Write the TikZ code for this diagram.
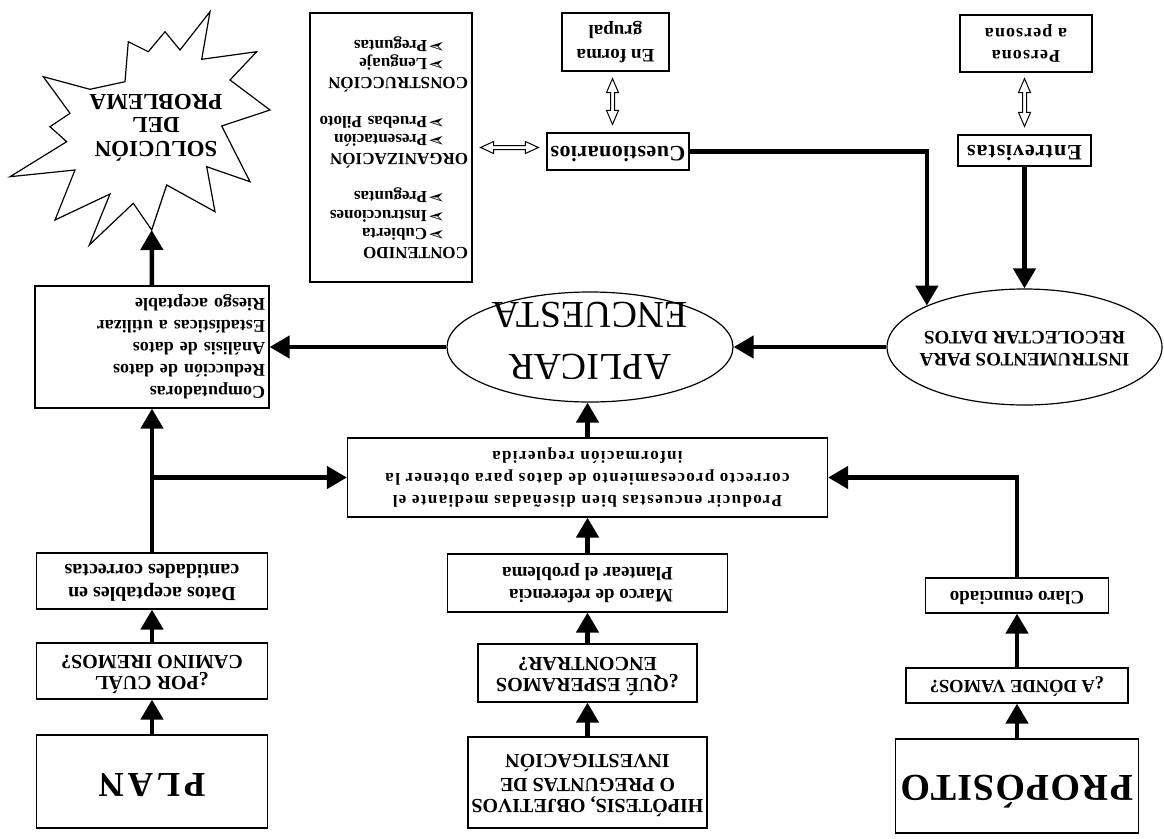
\documentclass[tikz,border=0pt]{standalone}
\usepackage{fontspec}
\usepackage{graphicx}
\setmainfont{Liberation Serif}
\newfontfamily\dingfont{DejaVu Sans}
\usetikzlibrary{arrows.meta,shapes.geometric,calc}

% text blocks printed upside down; optional arg shifts the block (upright sense)
\newcommand\flipc[2][0pt]{\rotatebox[origin=c]{180}{\raisebox{#1}[\height][\depth]{\begin{tabular}{@{}c@{}}#2\end{tabular}}}}
\newcommand\flipl[2][0pt]{\rotatebox[origin=c]{180}{\raisebox{#1}[\height][\depth]{\begin{tabular}{@{}l@{}}#2\end{tabular}}}}
\newcommand\fs[2]{\fontsize{#1}{#2}\selectfont}
\newcommand\itm[1]{\hspace*{23pt}{\dingfont\fontsize{20}{18}\selectfont ➢}\hspace{1pt}#1}

% hollow double-headed arrows
\newcommand\vdbl[2]{\draw[hollow] let \p1=(#1), \p2=(#2) in
  (\x1,\y1) -- (\x1+6pt,\y1-14pt) -- (\x1+2pt,\y1-14pt) -- (\x1+2pt,\y2+14pt)
  -- (\x1+6pt,\y2+14pt) -- (\x1,\y2) -- (\x1-6pt,\y2+14pt) -- (\x1-2pt,\y2+14pt)
  -- (\x1-2pt,\y1-14pt) -- (\x1-6pt,\y1-14pt) -- cycle;}
\newcommand\hdbl[2]{\draw[hollow] let \p1=(#1), \p2=(#2) in
  (\x1,\y1) -- (\x1+13pt,\y1+6pt) -- (\x1+13pt,\y1+2pt) -- (\x2-13pt,\y1+2pt)
  -- (\x2-13pt,\y1+6pt) -- (\x2,\y1) -- (\x2-13pt,\y1-6pt) -- (\x2-13pt,\y1-2pt)
  -- (\x1+13pt,\y1-2pt) -- (\x1+13pt,\y1-6pt) -- cycle;}

\begin{document}
\begin{tikzpicture}[x=1pt,y=-1pt,
  box/.style={draw, line width=1.2pt, inner sep=0pt},
  oval/.style={draw, ellipse, line width=1.2pt, inner sep=0pt},
  arr/.style={line width=4.5pt, -{Triangle[length=20pt,width=22pt]}},
  hollow/.style={draw, fill=white, line width=1pt, line join=miter}]
\fill[white] (0,0) rectangle (1164,838);
\useasboundingbox (0,0) rectangle (1164,838);

% ---- left column
\node[box, minimum width=231pt, minimum height=93pt,
  font={\bfseries\fs{35}{40}\addfontfeature{LetterSpace=11}}] (plan) at (152,781.5) {\flipc{PLAN}};
\node[box, minimum width=231pt, minimum height=56pt, font={\bfseries\fs{20}{21}}] (porcual) at (152,671) {\flipc{¿POR CUÁL\\CAMINO IREMOS?}};
\node[box, minimum width=231pt, minimum height=56pt, font={\bfseries\fs{20}{23}}] (datos) at (152,581) {\flipc{Datos aceptables en\\cantidades correctas}};
\node[box, minimum width=234pt, minimum height=122pt, text width=226pt, align=right,
  font={\bfseries\fs{18}{22}}] (comp) at (152,347) {\flipl{Computadoras\\Reducción de datos\\Análisis de datos\\Estadísticas a utilizar\\Riesgo aceptable}};

% ---- explosion
\draw[line width=1.2pt, line join=miter] (210,11.7) -- (201.7,59.3) -- (256.7,51.7) -- (230,80) -- (270,110)
  -- (221.7,126) -- (250,181.7) -- (206.7,166.7) -- (215,211.7) -- (166.7,185) -- (151.7,230)
  -- (133.3,203.3) -- (89.3,245) -- (110,194) -- (55,220) -- (75,170) -- (10,176.7)
  -- (66.7,141.7) -- (50,126.7) -- (70,113.3) -- (43.3,76.7) -- (90,89.3) -- (125,81.7)
  -- (128.3,41.7) -- (148.3,51.7) -- (165,31.7) -- (180,50) -- cycle;
\coordinate (soltip) at (151.7,230);
\node[inner sep=0pt, font={\bfseries\fs{23}{23.5}}] (sol) at (156,124) {\flipc{SOLUCIÓN\\DEL\\PROBLEMA}};

% ---- middle column
\node[box, minimum width=480pt, minimum height=79pt,
  font={\bfseries\fs{17}{22}\addfontfeature{LetterSpace=8}}] (producir) at (587.5,477.5)
  {\flipc{Producir encuestas bien diseñadas mediante el\\correcto procesamiento de datos para obtener la\\información requerida}};
\node[box, minimum width=280pt, minimum height=58pt, font={\bfseries\fs{19}{22}}] (marco) at (587.5,583) {\flipl{Marco de referencia\\Plantear el problema}};
\node[box, minimum width=219pt, minimum height=58pt, font={\bfseries\fs{20}{21}}] (que) at (587.5,673) {\flipc{¿QUÉ ESPERAMOS\\ENCONTRAR?}};
\node[box, minimum width=239pt, minimum height=91pt, font={\bfseries\fs{20}{21}}] (hip) at (587.5,782.5) {\flipc{HIPÓTESIS, OBJETIVOS\\O PREGUNTAS DE\\INVESTIGACIÓN}};

% ---- right column
\node[box, minimum width=243pt, minimum height=94pt,
  font={\bfseries\fs{38}{40}\addfontfeature{LetterSpace=3}}] (prop) at (1017,786) {\flipc{PROPÓSITO}};
\node[box, minimum width=222pt, minimum height=35pt, font={\bfseries\fs{18.5}{22}}] (donde) at (1017,685.5) {\flipc{¿A DÓNDE VAMOS?}};
\node[box, minimum width=183pt, minimum height=35pt, font={\bfseries\fs{19}{22}}] (claro) at (1017,595.5) {\flipc{Claro enunciado}};

% ---- ellipses
\node[oval, minimum width=286pt, minimum height=110pt, inner ysep=-14pt, font={\fs{38}{52}}] (aplicar) at (590,347) {\flipc[-8pt]{APLICAR\\ENCUESTA}};
\node[oval, minimum width=275pt, minimum height=116pt, inner xsep=-12pt, font={\bfseries\fs{19}{22}}] (instr) at (1024.5,347) {\flipc{INSTRUMENTOS PARA\\RECOLECTAR DATOS}};

% ---- top row
\node[box, minimum width=133pt, minimum height=31pt,
  font={\bfseries\fs{22}{24}\addfontfeature{LetterSpace=4}}] (entrev) at (1024.5,150.5) {\flipc{Entrevistas}};
\node[box, minimum width=132pt, minimum height=57pt,
  font={\bfseries\fs{18}{22}\addfontfeature{LetterSpace=6}}] (persona) at (1026,43.5) {\flipc{Persona\\a persona}};
\node[box, minimum width=142pt, minimum height=37pt,
  font={\bfseries\fs{22}{24}\addfontfeature{LetterSpace=2}}] (cuest) at (618,151.5) {\flipc{Cuestionarios}};
\node[box, minimum width=107pt, minimum height=58pt, font={\bfseries\fs{19}{24}}] (grupal) at (615.5,42) {\flipc{En forma\\grupal}};
\node[box, minimum width=162pt, minimum height=269pt, text width=154pt, align=right,
  font={\bfseries\fs{17}{18.5}}] (lista) at (391,147.5)
  {\flipl{CONTENIDO\\ \itm{Cubierta}\\ \itm{Instrucciones}\\ \itm{Preguntas}\\ \\
   ORGANIZACIÓN\\ \itm{Presentación}\\ \itm{Pruebas Piloto}\\ \\
   CONSTRUCCIÓN\\ \itm{Lenguaje}\\ \itm{Preguntas}}};

% ---- connectors
\draw[arr] (plan.north) -- (porcual.south);
\draw[arr] (porcual.north) -- (datos.south);
\draw[arr] (datos.north) -- (comp.south);
\coordinate (br) at (datos.north |- producir.west);
\draw[arr] (br) -- (producir.west);
\draw[arr] (comp.north) -- (soltip);

\draw[arr] (hip.north) -- (que.south);
\draw[arr] (que.north) -- (marco.south);
\draw[arr] (marco.north) -- (producir.south);
\draw[arr] (producir.north) -- (producir.north |- aplicar.south);

\draw[arr] (prop.north) -- (donde.south);
\draw[arr] (donde.north) -- (claro.south);
\draw[arr] (claro.north) |- (producir.east);

\draw[arr] (instr.west) -- (aplicar.east);
\draw[arr] (aplicar.west) -- (comp.east);
\draw[arr] (entrev.south) -- (instr.north);
\draw[arr] (cuest.east) -| (instr.157);

\coordinate (g1) at ($(grupal.south)+(-3,7)$);
\coordinate (g2) at ($(grupal.south |- cuest.north)+(-3,-8)$);
\vdbl{g1}{g2}
\coordinate (p1) at ($(entrev.north |- persona.south)+(0,6)$);
\coordinate (p2) at ($(entrev.north)+(0,-8)$);
\vdbl{p1}{p2}
\coordinate (l1) at ($(lista.east)+(8,0)$);
\coordinate (l2) at ($(lista.east -| cuest.west)+(-8,0)$);
\hdbl{l1}{l2}
\end{tikzpicture}
\end{document}
